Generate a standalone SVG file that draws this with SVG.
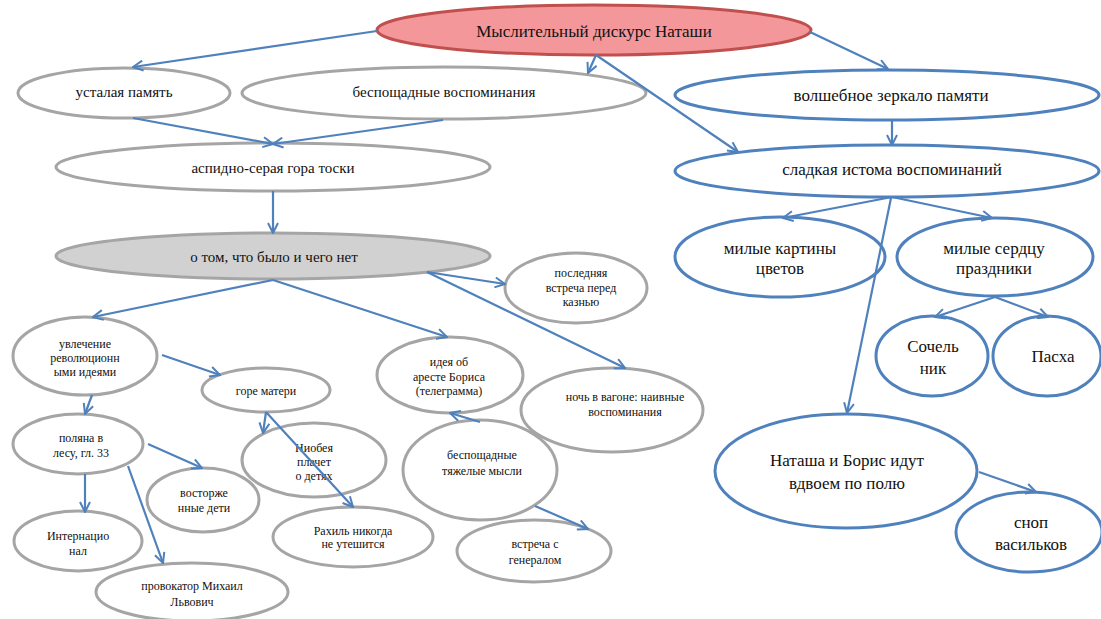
<svg xmlns="http://www.w3.org/2000/svg" width="1101" height="619" viewBox="0 0 1101 619">
<defs>
<marker id="ah" viewBox="0 0 12 12" refX="11" refY="6" markerWidth="12" markerHeight="12" markerUnits="userSpaceOnUse" orient="auto">
<path d="M1,1 L11,6 L1,11" fill="none" stroke="#4F81BD" stroke-width="2"/>
</marker>
</defs>
<style>
.g{fill:#fff;stroke:#A5A5A5;stroke-width:3}
.b{fill:#fff;stroke:#4F81BD;stroke-width:3}
.r{fill:#F4979B;stroke:#C0504D;stroke-width:3}
.gf{fill:#D1D1D1;stroke:#A5A5A5;stroke-width:3}
text{font-family:"Liberation Serif","Times New Roman","DejaVu Serif",serif;fill:#111;text-anchor:middle}
.L{font-size:17px}
.M{font-size:15px}
.S{font-size:12px}
.c line{stroke:#4F81BD;stroke-width:2.2;marker-end:url(#ah)}
</style>
<rect width="1101" height="619" fill="#fff"/>
<g id="n-root"><ellipse class="r" cx="594" cy="30" rx="217" ry="25"/><text class="L" x="594" y="37">Мыслительный дискурс Наташи</text></g>
<g id="n-ustalaya"><ellipse class="g" cx="124" cy="93" rx="106" ry="25"/><text class="M" x="124" y="97">усталая память</text></g>
<g id="n-besposhchadnye"><ellipse class="g" cx="444" cy="93" rx="202" ry="26"/><text class="M" x="444" y="97">беспощадные воспоминания</text></g>
<g id="n-aspidno"><ellipse class="g" cx="273" cy="167" rx="217" ry="24"/><text class="M" x="273" y="173">аспидно-серая гора тоски</text></g>
<g id="n-volshebnoe"><ellipse class="b" cx="887" cy="95" rx="212" ry="25"/><text class="L" x="891" y="101">волшебное зеркало памяти</text></g>
<g id="n-sladkaya"><ellipse class="b" cx="887" cy="171" rx="212" ry="26"/><text class="L" x="892" y="175">сладкая истома воспоминаний</text></g>
<g id="n-kartiny"><ellipse class="b" cx="780" cy="257" rx="105" ry="40"/><text class="L" x="780" y="254">милые картины</text><text class="L" x="780" y="274">цветов</text></g>
<g id="n-prazdniki"><ellipse class="b" cx="995" cy="257" rx="98" ry="39"/><text class="L" x="994" y="254">милые сердцу</text><text class="L" x="994" y="274">праздники</text></g>
<g id="n-sochelnik"><ellipse class="b" cx="932" cy="356" rx="56" ry="40"/><text class="L" x="933" y="352">Сочель</text><text class="L" x="933" y="374">ник</text></g>
<g id="n-paskha"><ellipse class="b" cx="1047" cy="356" rx="54" ry="40"/><text class="L" x="1053" y="362">Пасха</text></g>
<g id="n-natasha"><ellipse class="b" cx="846" cy="471" rx="131" ry="57"/><text class="L" x="847" y="466">Наташа и Борис идут</text><text class="L" x="847" y="489">вдвоем по полю</text></g>
<g id="n-snop"><ellipse class="b" cx="1029" cy="532" rx="73" ry="40"/><text class="L" x="1031" y="528">сноп</text><text class="L" x="1031" y="550">васильков</text></g>
<g id="n-o-tom"><ellipse class="gf" cx="273" cy="256" rx="217" ry="23"/><text class="M" x="274" y="262">о том, что было и чего нет</text></g>
<g id="n-uvlechenie"><ellipse class="g" cx="85" cy="356" rx="72" ry="39"/><text class="S" x="85" y="348">увлечение</text><text class="S" x="85" y="362">революционн</text><text class="S" x="85" y="376">ыми идеями</text></g>
<g id="n-gore"><ellipse class="g" cx="266" cy="390" rx="64" ry="22"/><text class="S" x="266" y="395">горе матери</text></g>
<g id="n-poslednyaya"><ellipse class="g" cx="576" cy="288" rx="71" ry="35"/><text class="S" x="581" y="277">последняя</text><text class="S" x="581" y="292">встреча перед</text><text class="S" x="581" y="306">казнью</text></g>
<g id="n-ideya"><ellipse class="g" cx="450" cy="375" rx="73" ry="38"/><text class="S" x="449" y="366">идея об</text><text class="S" x="449" y="381">аресте Бориса</text><text class="S" x="449" y="395">(телеграмма)</text></g>
<g id="n-noch"><ellipse class="g" cx="612" cy="410" rx="91" ry="42"/><text class="S" x="625" y="401">ночь в вагоне: наивные</text><text class="S" x="625" y="416">воспоминания</text></g>
<g id="n-tyazhelye"><ellipse class="g" cx="480" cy="470" rx="77" ry="50"/><text class="S" x="482" y="459">беспощадные</text><text class="S" x="482" y="475">тяжелые мысли</text></g>
<g id="n-vstrecha"><ellipse class="g" cx="534" cy="551" rx="77" ry="31"/><text class="S" x="535" y="548">встреча с</text><text class="S" x="535" y="564">генералом</text></g>
<g id="n-niobeya"><ellipse class="g" cx="314" cy="460" rx="72" ry="37"/><text class="S" x="314" y="452">Ниобея</text><text class="S" x="314" y="466">плачет</text><text class="S" x="314" y="480">о детях</text></g>
<g id="n-rakhil"><ellipse class="g" cx="353" cy="537" rx="80" ry="30"/><text class="S" x="353" y="535">Рахиль никогда</text><text class="S" x="353" y="548">не утешится</text></g>
<g id="n-polyana"><ellipse class="g" cx="78" cy="444" rx="65" ry="30"/><text class="S" x="81" y="442">поляна в</text><text class="S" x="81" y="457">лесу, гл. 33</text></g>
<g id="n-vostorzhe"><ellipse class="g" cx="203" cy="500" rx="56" ry="32"/><text class="S" x="204" y="497">восторже</text><text class="S" x="204" y="512">нные дети</text></g>
<g id="n-internatsional"><ellipse class="g" cx="78" cy="541" rx="64" ry="30"/><text class="S" x="78" y="540">Интернацио</text><text class="S" x="78" y="555">нал</text></g>
<g id="n-provokator"><ellipse class="g" cx="192" cy="592" rx="96" ry="29"/><text class="S" x="192" y="590">провокатор Михаил</text><text class="S" x="192" y="606">Львович</text></g>
<g id="connectors" class="c">
<line x1="377" y1="31" x2="133" y2="67"/>
<line x1="596" y1="55" x2="588" y2="73"/>
<line x1="596" y1="55" x2="738" y2="152"/>
<line x1="810" y1="32" x2="888" y2="69"/>
<line x1="892" y1="120" x2="892" y2="145"/>
<line x1="133" y1="118" x2="273" y2="144"/>
<line x1="443" y1="120" x2="273" y2="144"/>
<line x1="273" y1="191" x2="273" y2="233"/>
<line x1="273" y1="280" x2="93" y2="317"/>
<line x1="273" y1="280" x2="447" y2="337"/>
<line x1="427" y1="272" x2="505" y2="284"/>
<line x1="427" y1="272" x2="625" y2="368"/>
<line x1="162" y1="355" x2="220" y2="375"/>
<line x1="92" y1="395" x2="85" y2="414"/>
<line x1="266" y1="412" x2="263" y2="433"/>
<line x1="266" y1="412" x2="353" y2="507"/>
<line x1="480" y1="422" x2="450" y2="413"/>
<line x1="535" y1="506" x2="588" y2="529"/>
<line x1="148" y1="444" x2="202" y2="468"/>
<line x1="85" y1="474" x2="85" y2="512"/>
<line x1="128" y1="466" x2="163" y2="563"/>
<line x1="892" y1="197" x2="783" y2="218"/>
<line x1="892" y1="197" x2="992" y2="218"/>
<line x1="891" y1="198" x2="847" y2="413"/>
<line x1="995" y1="297" x2="935" y2="317"/>
<line x1="995" y1="297" x2="1048" y2="317"/>
<line x1="979" y1="472" x2="1036" y2="492"/>
</g>
</svg>
